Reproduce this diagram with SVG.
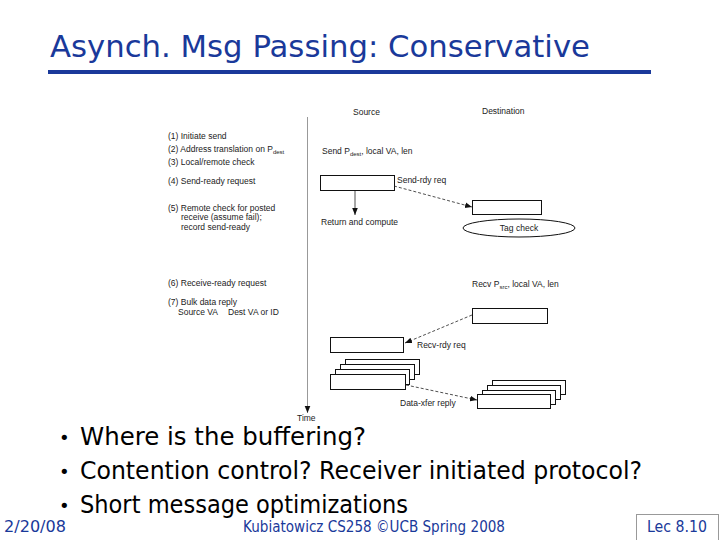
<svg xmlns="http://www.w3.org/2000/svg" width="720" height="540" viewBox="0 0 720 540">
<style>
.t{font-family:"Liberation Sans",Arial,sans-serif;font-size:8.5px;fill:#222}
.sub{font-size:6px}
.box{fill:#fff;stroke:#111;stroke-width:1}
.dash{fill:none;stroke:#222;stroke-width:0.8;stroke-dasharray:3,2}
.solid{fill:none;stroke:#222;stroke-width:0.8}
.big{font-family:"DejaVu Sans","Comic Sans MS",sans-serif;fill:#000}
.blue{font-family:"DejaVu Sans","Comic Sans MS",sans-serif;fill:#1a399a}
</style>
<defs>
<marker id="ah" viewBox="0 0 10 10" refX="10" refY="5" markerWidth="7" markerHeight="7" orient="auto" markerUnits="userSpaceOnUse">
<path d="M0,1 L10,5 L0,9 z" fill="#111"/>
</marker>
</defs>
<rect width="720" height="540" fill="#fff"/>

<g id="title">
<text class="blue" x="50" y="57" font-size="31" textLength="540" lengthAdjust="spacingAndGlyphs">Asynch. Msg Passing: Conservative</text>
<rect x="48" y="70" width="603" height="4" fill="#1a399a"/>
</g>

<g id="steps">
<text class="t" x="168" y="139">(1) Initiate send</text>
<text class="t" x="168" y="152">(2) Address translation on P<tspan class="sub" dy="2">dest</tspan></text>
<text class="t" x="168" y="165">(3) Local/remote check</text>
<text class="t" x="168" y="184">(4) Send-ready request</text>
<text class="t" x="168" y="211">(5) Remote check for posted</text>
<text class="t" x="181" y="220">receive (assume fail);</text>
<text class="t" x="181" y="230">record send-ready</text>
<text class="t" x="168" y="286">(6) Receive-ready request</text>
<text class="t" x="168" y="305">(7) Bulk data reply</text>
<text class="t" x="178" y="315">Source VA</text>
<text class="t" x="228" y="315">Dest VA or ID</text>
</g>

<g id="headers">
<text class="t" x="353" y="115">Source</text>
<text class="t" x="482" y="114">Destination</text>
</g>

<g id="timeline">
<line x1="307.5" y1="117" x2="307.5" y2="413" stroke="#999" stroke-width="1" marker-end="url(#ah)"/>
<text class="t" x="297" y="420.5" font-size="6.5">Time</text>
</g>

<g id="send-label">
<text class="t" x="322" y="154">Send P<tspan class="sub" dy="2">dest</tspan><tspan dy="-2">, local VA, len</tspan></text>
</g>

<g id="src-send-box">
<rect class="box" x="320.5" y="175.5" width="74" height="15"/>
</g>

<g id="return-label">
<text class="t" x="321" y="225">Return and compute</text>
</g>

<g id="dst-box1">
<rect class="box" x="472.5" y="200.5" width="69" height="14"/>
</g>

<g id="tag-check">
<ellipse cx="519" cy="228" rx="56" ry="9" fill="#fff" stroke="#111" stroke-width="1"/>
<text class="t" x="519" y="231" text-anchor="middle">Tag check</text>
</g>

<g id="recv-label">
<text class="t" x="472" y="287">Recv P<tspan class="sub" dy="2">src</tspan><tspan dy="-2">, local VA, len</tspan></text>
</g>

<g id="dst-box2">
<rect class="box" x="472.5" y="308.5" width="75" height="15"/>
</g>

<g id="src-box2">
<rect class="box" x="330.5" y="337.5" width="73" height="15"/>
</g>

<g id="src-stack">
<rect class="box" x="345.5" y="359.5" width="74" height="15"/>
<rect class="box" x="340.5" y="364.5" width="74" height="15"/>
<rect class="box" x="335.5" y="369.5" width="74" height="15"/>
<rect class="box" x="330.5" y="374.5" width="75" height="15"/>
</g>

<g id="dst-stack">
<rect class="box" x="492.5" y="380.5" width="73" height="14"/>
<rect class="box" x="487.5" y="385.5" width="73" height="14"/>
<rect class="box" x="482.5" y="390.5" width="73" height="14"/>
<rect class="box" x="477.5" y="394.5" width="73" height="14"/>
</g>

<g id="connectors">
<line class="solid" x1="355" y1="191" x2="355" y2="215" marker-end="url(#ah)"/>
<line class="dash" x1="394" y1="186" x2="472" y2="207" marker-end="url(#ah)"/>
<line class="dash" x1="472" y1="315" x2="405" y2="343" marker-end="url(#ah)"/>
<line class="dash" x1="406" y1="385" x2="477" y2="400" marker-end="url(#ah)"/>
<text class="t" x="397" y="183">Send-rdy req</text>
<text class="t" x="417" y="348">Recv-rdy req</text>
<text class="t" x="400" y="406">Data-xfer reply</text>
</g>

<g id="bullets">
<text class="big" x="59" y="444" font-size="18">•</text>
<text class="big" x="80" y="445" font-size="24" textLength="286" lengthAdjust="spacingAndGlyphs">Where is the buffering?</text>
<text class="big" x="59" y="478" font-size="18">•</text>
<text class="big" x="80" y="479" font-size="24" textLength="562" lengthAdjust="spacingAndGlyphs">Contention control?  Receiver initiated protocol?</text>
<text class="big" x="59" y="512" font-size="18">•</text>
<text class="big" x="80" y="513" font-size="24" textLength="328" lengthAdjust="spacingAndGlyphs">Short message optimizations</text>
</g>

<g id="footer">
<text class="blue" x="4" y="532" font-size="15" textLength="62" lengthAdjust="spacingAndGlyphs">2/20/08</text>
<text class="blue" x="243" y="532" font-size="15" textLength="262" lengthAdjust="spacingAndGlyphs">Kubiatowicz CS258 ©UCB Spring 2008</text>
<rect x="636.5" y="514.5" width="82" height="26" fill="none" stroke="#333" stroke-width="1" stroke-dasharray="1,1"/>
<text class="blue" x="647" y="532" font-size="15" textLength="60" lengthAdjust="spacingAndGlyphs">Lec 8.10</text>
</g>
</svg>
